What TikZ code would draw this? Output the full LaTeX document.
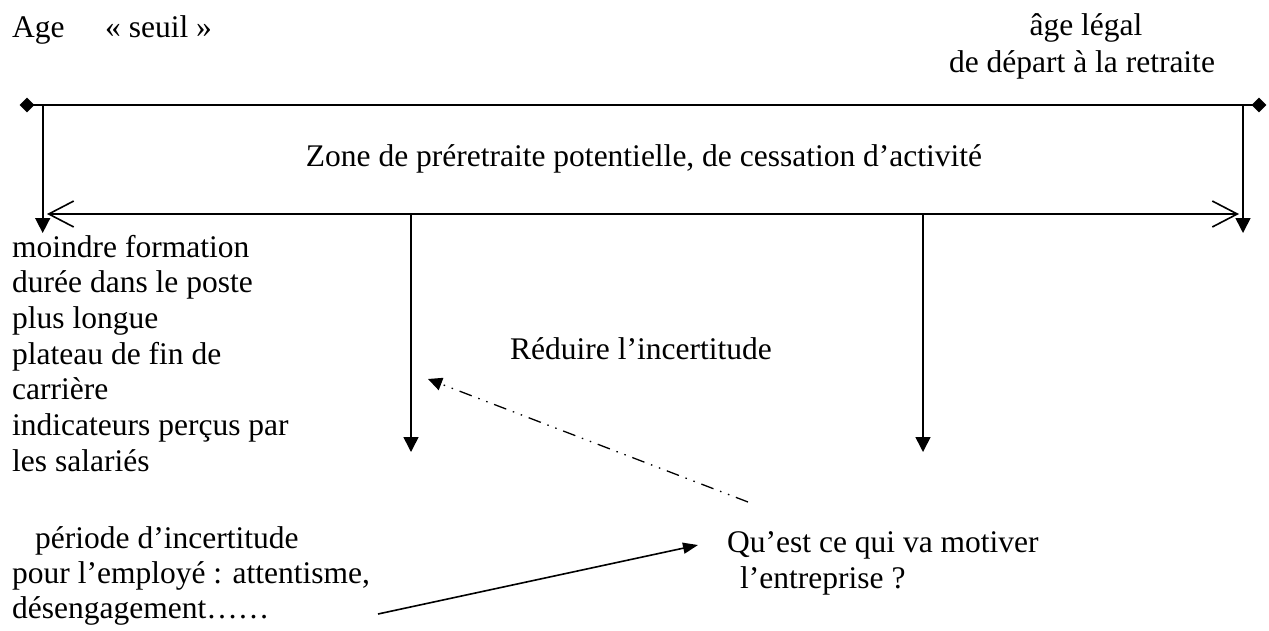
\documentclass[tikz,border=0pt]{standalone}
\usepackage{fontspec}
\setmainfont{Liberation Serif}
\usetikzlibrary{arrows.meta,shapes.geometric}
\begin{document}
\begin{tikzpicture}[x=1pt,y=-1pt,
  txt/.style={font=\fontsize{31.5}{36}\selectfont, inner sep=0pt, anchor=base west},
  ctxt/.style={txt, anchor=base},
  ln/.style={line width=1.6pt},
  dmd/.style={diamond, fill=black, draw=none, inner sep=0pt, minimum width=15pt, minimum height=15pt},
  downarrow/.style={ln, -{Triangle[length=15pt,width=15pt]}},
  barbs/.style={ln, {Straight Barb[length=25pt,width=26pt]}-{Straight Barb[length=25pt,width=26pt]}},
  dashdot/.style={line width=1.3pt, dash pattern=on 13pt off 7pt on 1.5pt off 7pt on 1.5pt off 7pt, -{Triangle[length=14pt,width=13pt]}},
  pointer/.style={ln, -{Triangle[length=15pt,width=11pt]}}
]
\useasboundingbox (0,0) rectangle (1269,630);

% texts
\node[txt] (age) at (12,37) {Age};
\node[txt] (seuil) at (105,37) {«~seuil~»};
\node[ctxt] (legal1) at (1086,35) {âge légal};
\node[ctxt] (legal2) at (1082,72) {de départ à la retraite};
\node[ctxt] (zone) at (644,166) {Zone de préretraite potentielle, de cessation d’activité};
\node[txt] (l1) at (12,257) {moindre formation};
\node[txt] (l2) at (12,292.7) {durée dans le poste};
\node[txt] (l3) at (12,328.4) {plus longue};
\node[txt] (l4) at (12,364.1) {plateau de fin de};
\node[txt] (l5) at (12,399.8) {carrière};
\node[txt] (l6) at (12,435.5) {indicateurs perçus par};
\node[txt] (l7) at (12,471.2) {les salariés};
\node[txt] (reduire) at (510,359) {Réduire l’incertitude};
\node[txt] (p1) at (35,548) {période d’incertitude};
\node[txt] (p2) at (12,583) {pour l’employé : attentisme,};
\node[txt] (p3) at (12,618) {désengagement……};
\node[txt] (q1) at (727,552) {Qu’est ce qui va motiver};
\node[txt] (q2) at (740,588) {l’entreprise ?};

% top line with diamonds
\node[dmd] (dl) at (27,105) {};
\node[dmd] (dr) at (1259,105) {};
\draw[ln] (dl.center) -- (dr.center);

% vertical arrows from top line
\coordinate (tl) at (42.7,105);
\coordinate (tr) at (1243,105);
\coordinate (bl) at (42.7,233);
\coordinate (br) at (1243,233);
\draw[downarrow] (tl) -- (bl);
\draw[downarrow] (tr) -- (br);

% double arrow
\coordinate (hl) at (47,214);
\coordinate (hr) at (1239,214);
\draw[barbs] (hl) -- (hr);

% middle arrows
\coordinate (m1t) at (411,214);
\coordinate (m1b) at (411,452);
\coordinate (m2t) at (923,214);
\coordinate (m2b) at (923,452);
\draw[downarrow] (m1t) -- (m1b);
\draw[downarrow] (m2t) -- (m2b);

% dash-dot arrow
\coordinate (ddt) at (748,502);
\coordinate (ddh) at (428,379);
\draw[dashdot] (ddt) -- (ddh);

% solid pointer
\coordinate (st) at (378,614);
\coordinate (sh) at (698,545);
\draw[pointer] (st) -- (sh);
\end{tikzpicture}
\end{document}
